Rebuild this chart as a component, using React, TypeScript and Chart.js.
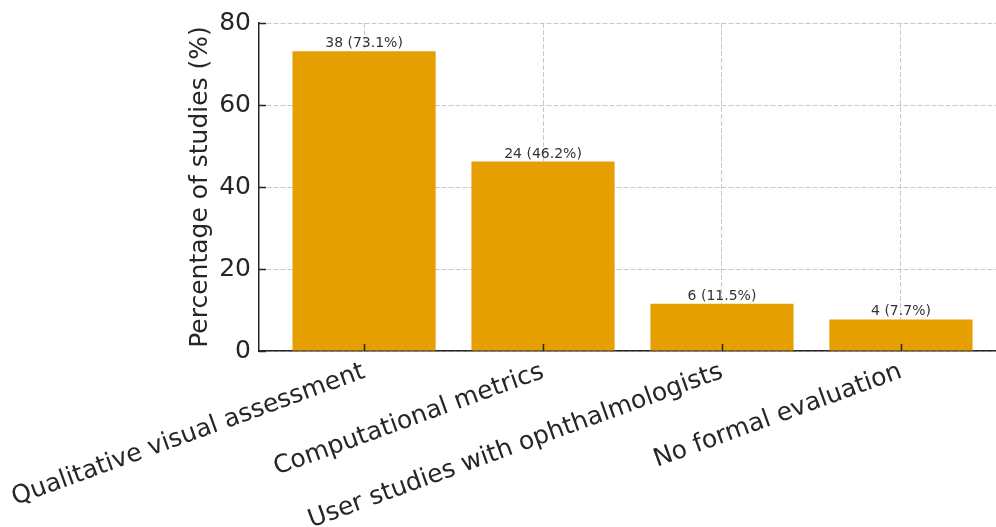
import React, { useEffect, useRef } from "react";
import { Chart, registerables } from "chart.js";

Chart.register(...registerables);

// Evaluation approaches across the reviewed studies (n = 52)
const categories = [
  "Qualitative visual assessment",
  "Computational metrics",
  "User studies with ophthalmologists",
  "No formal evaluation",
];
const studyCounts = [38, 24, 6, 4];
const studyPercents = [73.1, 46.2, 11.5, 7.7];
const yTicks = [0, 20, 40, 60, 80];

const FONT = "'DejaVu Sans', 'Liberation Sans', sans-serif";
const BAR_COLOR = "#E69F00";
const INK = "#262626";
const GRID = "rgba(176,176,176,0.7)";

// Short inward tick marks on both axes
const innerTicks = {
  id: "innerTicks",
  afterDraw(chart: any) {
    const { ctx, chartArea } = chart;
    const x = chart.scales.x;
    const y = chart.scales.y;
    ctx.save();
    ctx.strokeStyle = INK;
    ctx.lineWidth = 1.5;
    ctx.beginPath();
    yTicks.forEach((v) => {
      const py = Math.round(y.getPixelForValue(v)) + 0.5;
      ctx.moveTo(chartArea.left, py);
      ctx.lineTo(chartArea.left + 7, py);
    });
    categories.forEach((_, i) => {
      const px = Math.round(x.getPixelForValue(i)) + 0.5;
      ctx.moveTo(px, chartArea.bottom);
      ctx.lineTo(px, chartArea.bottom - 7);
    });
    ctx.stroke();
    ctx.restore();
  },
};

// "count (percent%)" above each bar
const valueLabels = {
  id: "valueLabels",
  afterDatasetsDraw(chart: any) {
    const { ctx } = chart;
    const meta = chart.getDatasetMeta(0);
    ctx.save();
    ctx.font = `14px ${FONT}`;
    ctx.fillStyle = "#333333";
    ctx.textAlign = "center";
    ctx.textBaseline = "alphabetic";
    meta.data.forEach((bar: any, i: number) => {
      ctx.fillText(
        `${studyCounts[i]} (${studyPercents[i].toFixed(1)}%)`,
        bar.x,
        bar.y - 4
      );
    });
    ctx.restore();
  },
};

export default function App() {
  const canvasRef = useRef<HTMLCanvasElement | null>(null);

  useEffect(() => {
    if (!canvasRef.current) return;
    const chart = new Chart(canvasRef.current, {
      type: "bar",
      data: {
        datasets: [
          {
            data: studyPercents.map((v, i) => ({ x: i, y: v })),
            backgroundColor: BAR_COLOR,
            borderWidth: 0,
            barPercentage: 0.8,
            categoryPercentage: 1.0,
          },
        ],
      },
      options: {
        animation: false,
        responsive: false,
        devicePixelRatio: 1,
        layout: { padding: { top: 21, right: 0, bottom: 0, left: 0 } },
        plugins: {
          legend: { display: false },
          tooltip: { enabled: false },
          title: { display: false },
        },
        scales: {
          x: {
            type: "linear",
            min: -0.587,
            max: 3.531,
            offset: false,
            z: 1,
            afterBuildTicks(scale: any) {
              scale.ticks = categories.map((_, i) => ({ value: i }));
            },
            afterFit(scale: any) {
              scale.height = 176;
              scale.paddingLeft = 0;
              scale.paddingRight = 0;
            },
            ticks: {
              autoSkip: false,
              minRotation: 20,
              maxRotation: 20,
              padding: 6,
              color: INK,
              font: { family: FONT, size: 25 },
              callback: (v: any) => categories[v] ?? "",
            },
            grid: {
              offset: false,
              drawTicks: false,
              color: GRID,
              lineWidth: 1,
            },
            border: { display: true, color: INK, width: 1.5, dash: [5, 2] },
          },
          y: {
            min: 0,
            max: 80,
            z: 1,
            afterBuildTicks(scale: any) {
              scale.ticks = yTicks.map((v) => ({ value: v }));
            },
            afterFit(scale: any) {
              scale.width = 259;
            },
            ticks: {
              padding: 8,
              color: INK,
              font: { family: FONT, size: 25 },
            },
            grid: {
              drawTicks: false,
              color: GRID,
              lineWidth: 1,
            },
            border: { display: true, color: INK, width: 1.5, dash: [5, 2] },
            title: {
              display: true,
              text: "Percentage of studies (%)",
              color: INK,
              font: { family: FONT, size: 25 },
              padding: { top: 185, bottom: 0 },
            },
          },
        },
      },
      plugins: [valueLabels, innerTicks],
    } as any);
    return () => chart.destroy();
  }, []);

  return (
    <div
      style={{
        position: "fixed",
        left: 0,
        top: 0,
        width: 996,
        height: 527,
        background: "#ffffff",
        overflow: "hidden",
      }}
    >
      <canvas ref={canvasRef} width={996} height={527} />
    </div>
  );
}
